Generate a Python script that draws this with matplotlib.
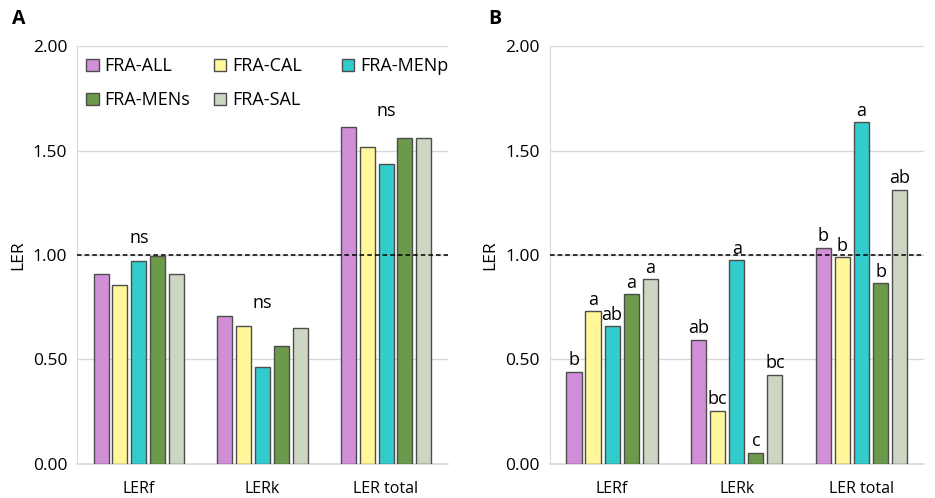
import matplotlib
matplotlib.use("Agg")
import matplotlib.pyplot as plt
import numpy as np
from matplotlib.patches import Patch

plt.rcParams['font.family'] = ['Open Sans', 'DejaVu Sans']

categories = ["LERf", "LERk", "LER total"]
series = ["FRA-ALL", "FRA-CAL", "FRA-MENp", "FRA-MENs", "FRA-SAL"]
colors = ["#D18FD8", "#FFF79A", "#33CCCC", "#6C9A4B", "#CDD5C3"]

vals_A = {
    "FRA-ALL":  [0.908, 0.708, 1.614],
    "FRA-CAL":  [0.856, 0.660, 1.518],
    "FRA-MENp": [0.970, 0.464, 1.434],
    "FRA-MENs": [0.997, 0.565, 1.560],
    "FRA-SAL":  [0.909, 0.651, 1.560],
}
vals_B = {
    "FRA-ALL":  [0.442, 0.595, 1.035],
    "FRA-CAL":  [0.732, 0.255, 0.989],
    "FRA-MENp": [0.660, 0.976, 1.636],
    "FRA-MENs": [0.812, 0.054, 0.865],
    "FRA-SAL":  [0.885, 0.427, 1.311],
}
letters_B = {
    "FRA-ALL":  ["b", "ab", "b"],
    "FRA-CAL":  ["a", "bc", "b"],
    "FRA-MENp": ["ab", "a", "a"],
    "FRA-MENs": ["a", "c", "b"],
    "FRA-SAL":  ["a", "bc", "ab"],
}
ns_A = ["ns", "ns", "ns"]
ns_y = [1.08, 0.77, 1.69]

fig = plt.figure(figsize=(9.35, 4.98), dpi=100)
axA = fig.add_axes([0.0824, 0.0683, 0.3966, 0.8393])
axB = fig.add_axes([0.588, 0.0683, 0.400, 0.8393])

width = 0.121
step = 0.153
x = np.arange(len(categories))

def style(ax):
    ax.set_xlim(-0.5, 2.5)
    ax.set_ylim(0, 2.0)
    ax.set_yticks([0, 0.5, 1.0, 1.5, 2.0])
    ax.set_yticklabels(["0.00", "0.50", "1.00", "1.50", "2.00"])
    ax.set_xticks(x)
    ax.set_xticklabels(categories, fontsize=11.5)
    ax.tick_params(axis='y', length=0, labelsize=12.5, pad=7)
    ax.tick_params(axis='x', length=0, pad=12)
    ax.grid(axis='y', color='#D9D9D9', linewidth=1)
    ax.set_axisbelow(True)
    for s in ['top', 'right']:
        ax.spines[s].set_visible(False)
    ax.spines['left'].set_color('#D9D9D9')
    ax.spines['bottom'].set_color('#D9D9D9')
    ax.spines['bottom'].set_linewidth(1.2)
    ax.set_ylabel("LER", fontsize=12.5, labelpad=5)
    ax.axhline(1.0, color='black', linestyle=(0, (3, 2)), linewidth=1.1, zorder=4)

for i, s in enumerate(series):
    off = (i - 2) * step
    axA.bar(x + off, vals_A[s], width, color=colors[i], edgecolor='#4D4D4D', linewidth=1, zorder=3)
    axB.bar(x + off, vals_B[s], width, color=colors[i], edgecolor='#4D4D4D', linewidth=1, zorder=3)
    for j in range(len(categories)):
        axB.text(x[j] + off, vals_B[s][j] + 0.012, letters_B[s][j], ha='center', va='bottom',
                 fontsize=13, zorder=5)

for j in range(len(categories)):
    axA.text(x[j], ns_y[j], ns_A[j], ha='center', va='center', fontsize=13)

style(axA)
style(axB)

# legend: three equal-width columns, filled row-wise
col_groups = [[0, 3], [1, 4], [2]]
col_x = [-0.0197, 0.325, 0.670]
legs = []
for cx, grp in zip(col_x, col_groups):
    handles = [Patch(facecolor=colors[i], edgecolor='#4D4D4D', linewidth=1) for i in grp]
    labels = [series[i] for i in grp]
    leg = axA.legend(handles, labels, ncol=1, loc='upper left', bbox_to_anchor=(cx, 1.012),
                     frameon=False, fontsize=13, handlelength=0.7, handleheight=0.7,
                     handletextpad=0.3, labelspacing=0.9)
    legs.append(leg)
for leg in legs[:-1]:
    axA.add_artist(leg)

fig.text(0.013, 0.962, "A", fontsize=14, fontweight='bold', va='center')
fig.text(0.522, 0.962, "B", fontsize=14, fontweight='bold', va='center')

fig.savefig("out.png", dpi=100)
